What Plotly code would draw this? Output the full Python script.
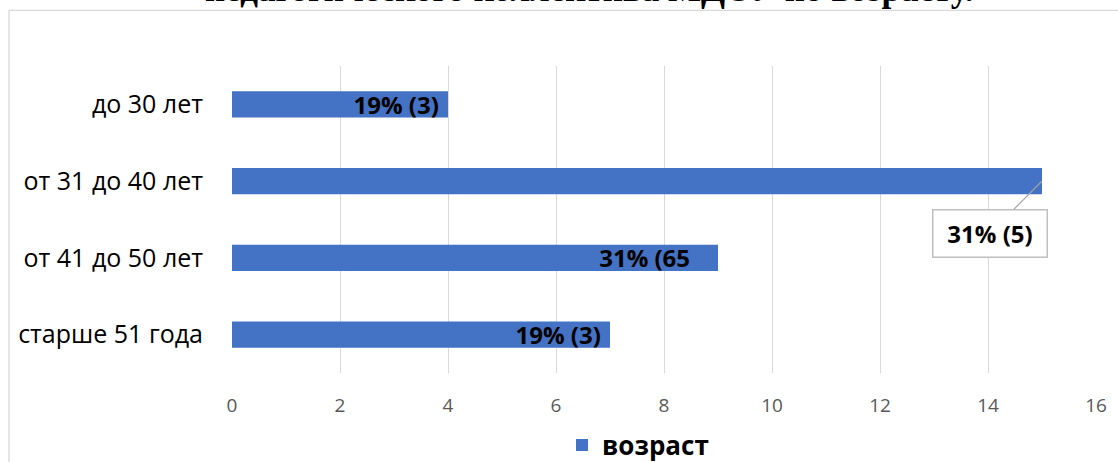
import plotly.graph_objects as go

categories = ["до 30 лет", "от 31 до 40 лет", "от 41 до 50 лет", "старше 51 года"]
values = [4, 15, 9, 7]
labels = ["19% (3)", "31% (5)", "31% (65", "19% (3)"]
series_name = "возраст"
title_text = "педагогического коллектива МДОУ по возрасту."
tick_vals = [0, 2, 4, 6, 8, 10, 12, 14, 16]

FONT = "Open Sans"
BLUE = "#4472c4"

W, H = 1118, 462
L = 232
X16 = 1096
R = W - X16
T = 65.6
B = H - 372.9
PW = W - L - R
PH = H - T - B


def px_x(p):
    return (p - L) / PW


def px_y(p):
    return (H - B - p) / PH


outside_idx = 1
label_pad = [1, 0, 4, 1]
textpos = ["none" if i == outside_idx else "inside" for i in range(len(values))]
shown = [lab + "\u00a0" * n for lab, n in zip(labels, label_pad)]

fig = go.Figure()
fig.add_trace(go.Bar(
    y=categories, x=values, orientation="h", name=series_name,
    marker=dict(color=BLUE, line=dict(width=0)),
    width=0.34,
    text=shown, textposition=textpos, insidetextanchor="end",
    textfont=dict(family=FONT, size=24, color="black", weight="bold"),
    cliponaxis=False,
))

fig.add_annotation(
    x=values[outside_idx], y=categories[outside_idx], xref="x", yref="y",
    text="<b>" + labels[outside_idx] + "</b>",
    showarrow=True, arrowhead=0, arrowwidth=1.3, arrowcolor="#a6a6a6",
    ax=-52, ay=52,
    width=101, height=34,
    font=dict(family=FONT, size=24, color="black"),
    bgcolor="white", bordercolor="#bfbfbf", borderwidth=1.5, borderpad=6,
)

fig.add_annotation(
    x=px_x(589), y=px_y(-11), xref="paper", yref="paper",
    text="<b>" + title_text + "</b>", showarrow=False,
    xanchor="center", yanchor="middle",
    font=dict(family="Liberation Serif", size=35, color="black"),
)

fig.add_shape(type="rect", xref="paper", yref="paper",
              x0=px_x(9), x1=px_x(1140), y0=px_y(480), y1=px_y(10),
              line=dict(color="#d9d9d9", width=1.3), fillcolor="rgba(0,0,0,0)", layer="below")

fig.update_layout(
    width=W, height=H,
    margin=dict(l=L, r=R, t=T, b=B, pad=0, autoexpand=False),
    paper_bgcolor="white", plot_bgcolor="white",
    font=dict(family=FONT),
    showlegend=True,
    legend=dict(orientation="h", xref="container", yref="container",
                x=638 / W, y=1 - 445 / H, xanchor="center", yanchor="middle",
                font=dict(family=FONT, size=26, color="black", weight="bold"),
                itemwidth=30),
    uniformtext=dict(minsize=24, mode="show"),
    bargap=0.66,
)
fig.update_xaxes(range=[0, 16], tickvals=tick_vals, showgrid=True, gridcolor="#d9d9d9", gridwidth=1.3,
                 zeroline=False, showline=False, ticks="", automargin=False,
                 tickfont=dict(family=FONT, size=19, color="#595959"), ticklabelstandoff=19)
fig.update_yaxes(categoryorder="array", categoryarray=categories, autorange="reversed",
                 showgrid=False, showline=False, ticks="", automargin=False,
                 tickfont=dict(family=FONT, size=25, color="black"), ticklabelstandoff=28)

fig.write_html("out.html", config={"displayModeBar": False},
               post_script="document.body.style.margin='0';document.body.style.overflow='hidden';")
